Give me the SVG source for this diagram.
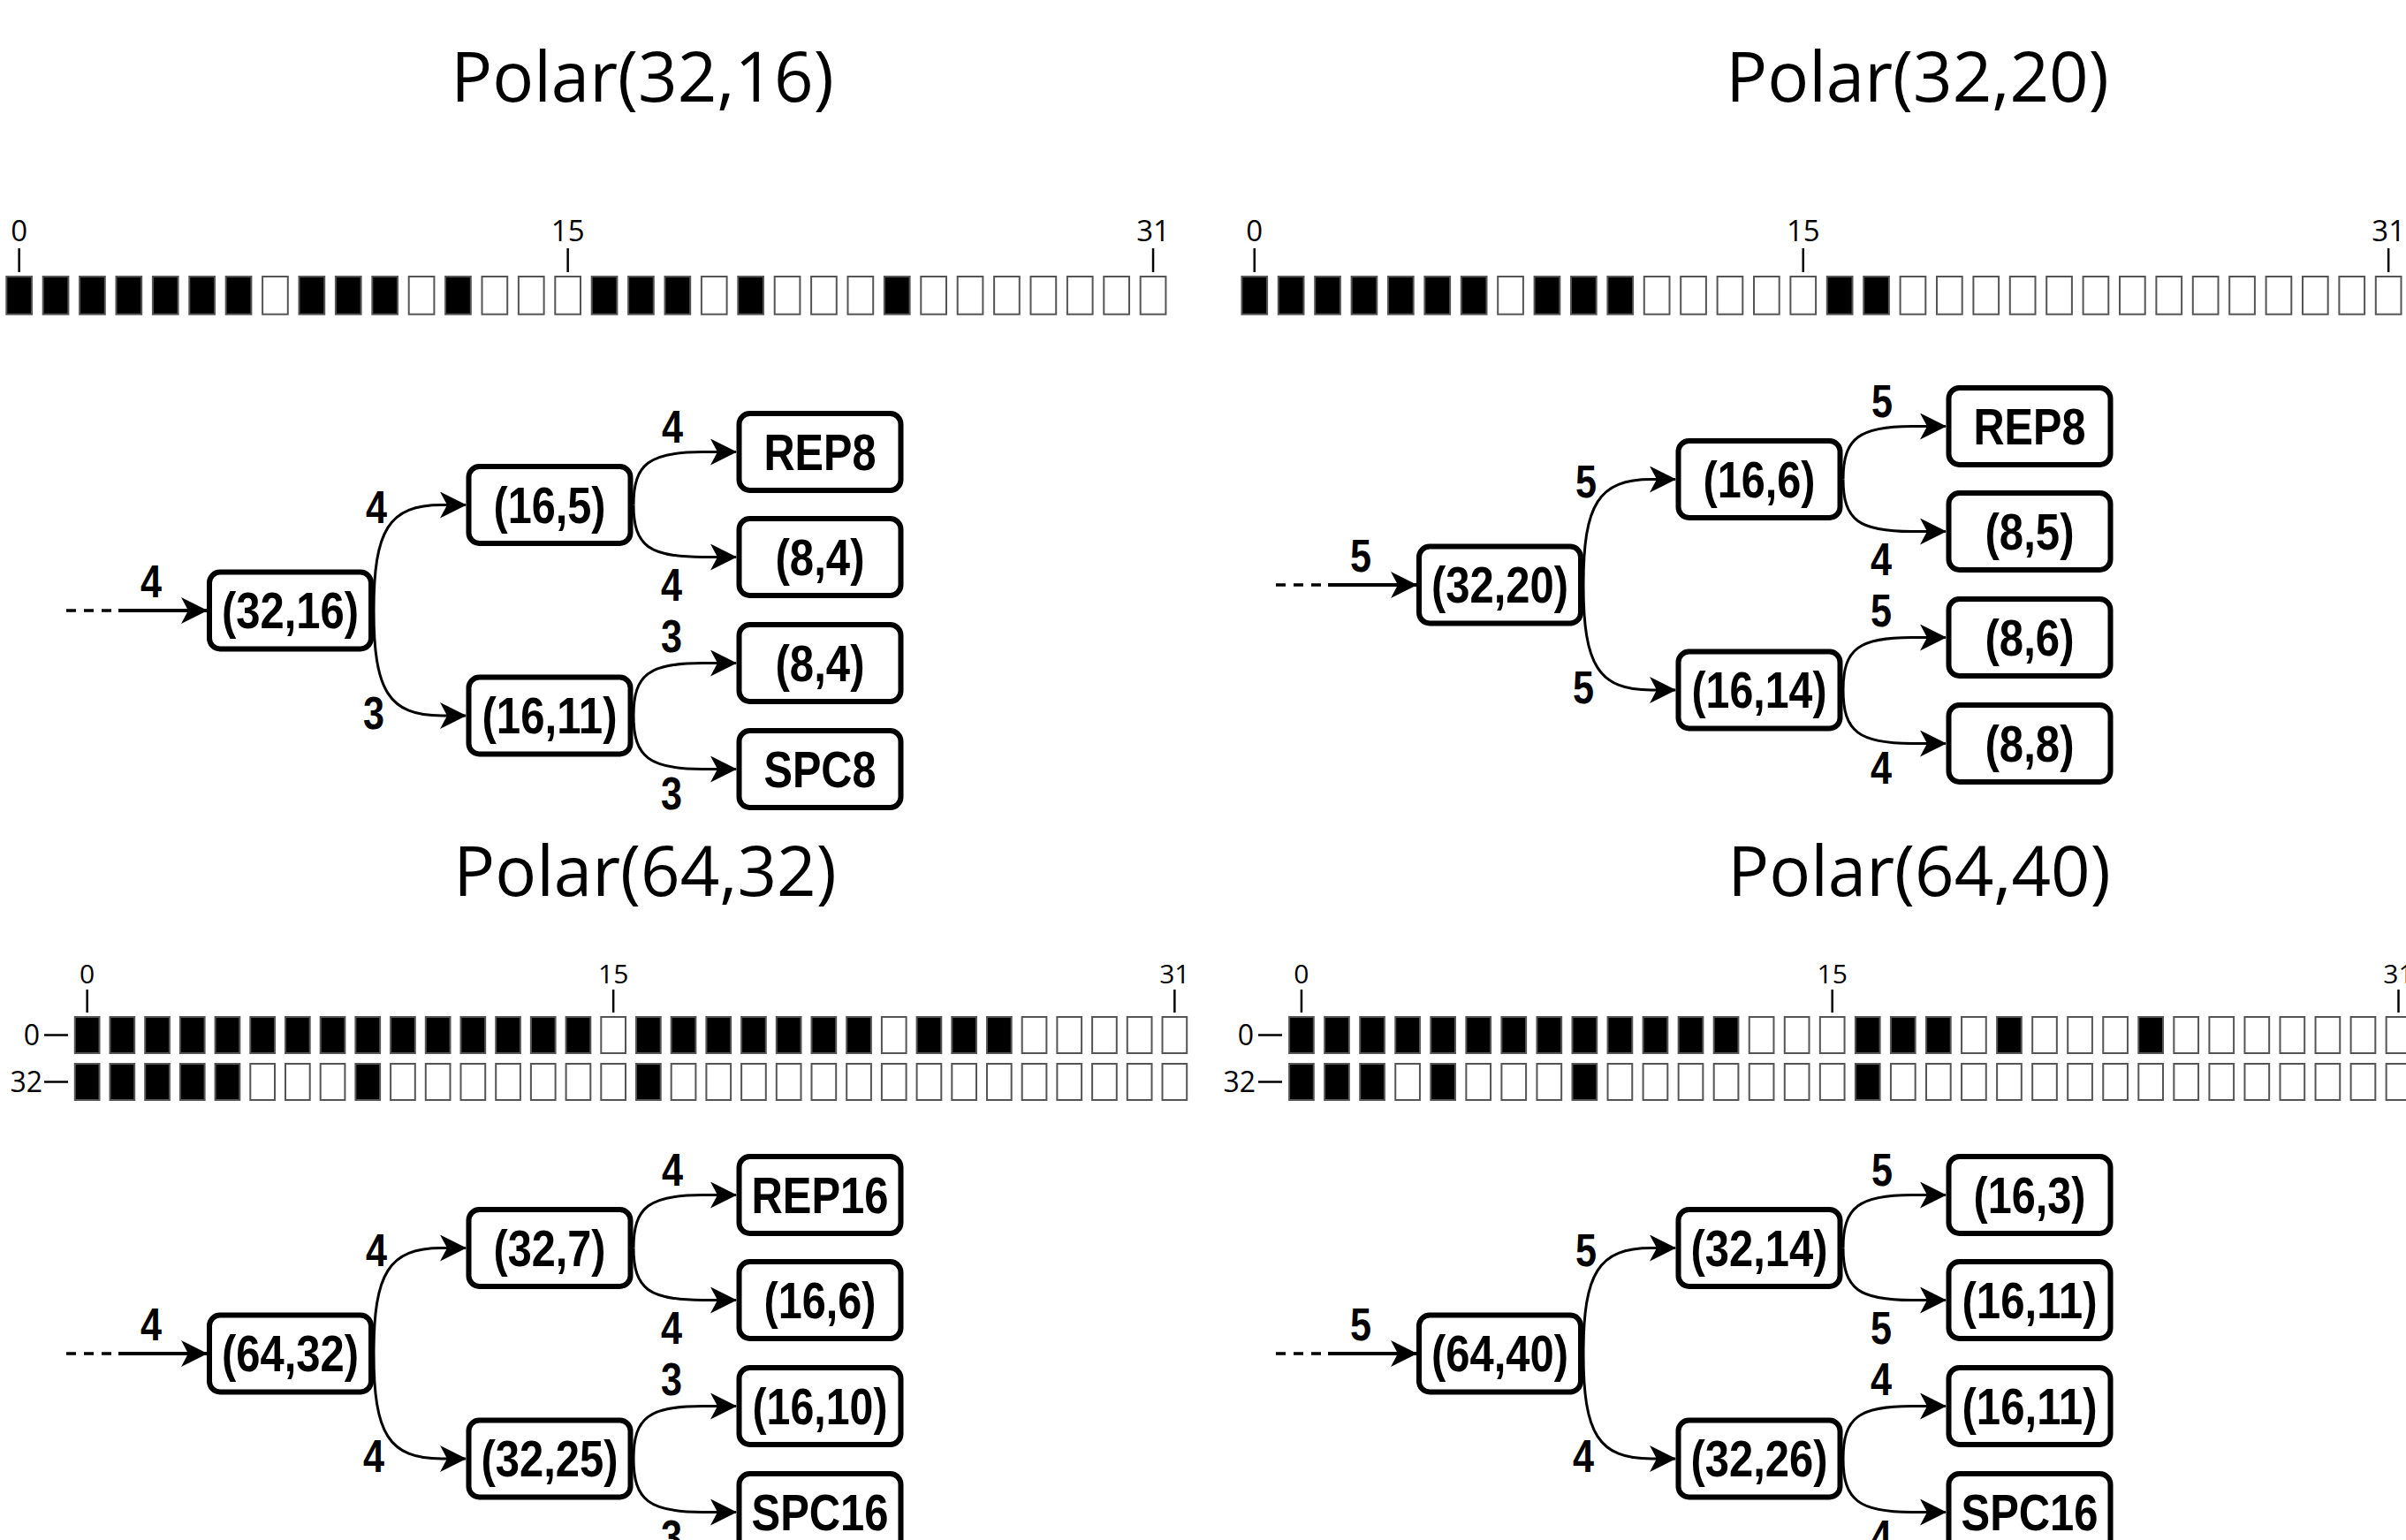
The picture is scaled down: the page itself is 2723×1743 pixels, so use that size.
<svg xmlns="http://www.w3.org/2000/svg" xmlns:xlink="http://www.w3.org/1999/xlink" width="2723" height="1743" viewBox="0 0 2723 1743">
<defs>
<style>
.title{font-family:"Open Sans","Noto Sans",sans-serif;font-size:78px;text-anchor:middle;fill:#000}
.tk1{font-family:"Open Sans","Noto Sans",sans-serif;font-size:33px;text-anchor:middle;fill:#000}
.tk2{font-family:"Open Sans","Noto Sans",sans-serif;font-size:30px;text-anchor:middle;fill:#000}
.rl{font-family:"Open Sans","Noto Sans",sans-serif;font-size:32px;text-anchor:end;fill:#000}
.tick{stroke:#000;stroke-width:2.5;fill:none}
.node rect{fill:#fff;stroke:#000;stroke-width:6}
.node text{font-family:"Liberation Sans",Arial,sans-serif;font-weight:bold;font-size:57px;text-anchor:middle;fill:#000}
.edge path,.edge line{fill:none;stroke:#000;stroke-width:3}
.edge .in{stroke-width:4}
.edge .dash{stroke-width:3.5;stroke-dasharray:11 9}
.lbl{font-family:"Liberation Sans",Arial,sans-serif;font-weight:bold;font-size:52px;text-anchor:middle;fill:#000}
</style>
<marker id="arr" markerUnits="userSpaceOnUse" markerWidth="30" markerHeight="30" viewBox="0 0 30 30" refX="29" refY="15" orient="auto">
<path d="M0,0 L30,15 L0,30 L8,15 Z" fill="#000"/>
</marker>
<rect id="k1" width="28.7" height="42.7" fill="#000" stroke="#555" stroke-width="2"/>
<rect id="w1" width="28.7" height="42.7" fill="#fff" stroke="#555" stroke-width="2"/>
<rect id="k2" width="27.7" height="41" fill="#000" stroke="#555" stroke-width="2"/>
<rect id="w2" width="27.7" height="41" fill="#fff" stroke="#555" stroke-width="2"/>
</defs>
<rect width="2723" height="1743" fill="#fff"/>

<text class="title" x="727" y="115">Polar(32,16)</text>
<text class="title" x="2170" y="115">Polar(32,20)</text>
<text class="title" x="730" y="1014">Polar(64,32)</text>
<text class="title" x="2172" y="1014">Polar(64,40)</text>

<!-- P1 bit row -->
<g id="bits-p1">
<text class="tk1" x="21.65" y="273">0</text><text class="tk1" x="642.65" y="273">15</text><text class="tk1" x="1305.05" y="273">31</text>
<line class="tick" x1="21.65" y1="281" x2="21.65" y2="308"/><line class="tick" x1="642.65" y1="281" x2="642.65" y2="308"/><line class="tick" x1="1305.05" y1="281" x2="1305.05" y2="308"/>
<g transform="translate(7.3,313)">
<use href="#k1" x="0"/><use href="#k1" x="41.4"/><use href="#k1" x="82.8"/><use href="#k1" x="124.2"/><use href="#k1" x="165.6"/><use href="#k1" x="207"/><use href="#k1" x="248.4"/><use href="#w1" x="289.8"/>
<use href="#k1" x="331.2"/><use href="#k1" x="372.6"/><use href="#k1" x="414"/><use href="#w1" x="455.4"/><use href="#k1" x="496.8"/><use href="#w1" x="538.2"/><use href="#w1" x="579.6"/><use href="#w1" x="621"/>
<use href="#k1" x="662.4"/><use href="#k1" x="703.8"/><use href="#k1" x="745.2"/><use href="#w1" x="786.6"/><use href="#k1" x="828"/><use href="#w1" x="869.4"/><use href="#w1" x="910.8"/><use href="#w1" x="952.2"/>
<use href="#k1" x="993.6"/><use href="#w1" x="1035"/><use href="#w1" x="1076.4"/><use href="#w1" x="1117.8"/><use href="#w1" x="1159.2"/><use href="#w1" x="1200.6"/><use href="#w1" x="1242"/><use href="#w1" x="1283.4"/>
</g>
</g>

<!-- P2 bit row -->
<g id="bits-p2">
<text class="tk1" x="1419.75" y="273">0</text><text class="tk1" x="2040.75" y="273">15</text><text class="tk1" x="2703.15" y="273">31</text>
<line class="tick" x1="1419.75" y1="281" x2="1419.75" y2="308"/><line class="tick" x1="2040.75" y1="281" x2="2040.75" y2="308"/><line class="tick" x1="2703.15" y1="281" x2="2703.15" y2="308"/>
<g transform="translate(1405.4,313)">
<use href="#k1" x="0"/><use href="#k1" x="41.4"/><use href="#k1" x="82.8"/><use href="#k1" x="124.2"/><use href="#k1" x="165.6"/><use href="#k1" x="207"/><use href="#k1" x="248.4"/><use href="#w1" x="289.8"/>
<use href="#k1" x="331.2"/><use href="#k1" x="372.6"/><use href="#k1" x="414"/><use href="#w1" x="455.4"/><use href="#w1" x="496.8"/><use href="#w1" x="538.2"/><use href="#w1" x="579.6"/><use href="#w1" x="621"/>
<use href="#k1" x="662.4"/><use href="#k1" x="703.8"/><use href="#w1" x="745.2"/><use href="#w1" x="786.6"/><use href="#w1" x="828"/><use href="#w1" x="869.4"/><use href="#w1" x="910.8"/><use href="#w1" x="952.2"/>
<use href="#w1" x="993.6"/><use href="#w1" x="1035"/><use href="#w1" x="1076.4"/><use href="#w1" x="1117.8"/><use href="#w1" x="1159.2"/><use href="#w1" x="1200.6"/><use href="#w1" x="1242"/><use href="#w1" x="1283.4"/>
</g>
</g>

<!-- P3 bit rows -->
<g id="bits-p3">
<text class="tk2" x="98.65" y="1113">0</text><text class="tk2" x="694.15" y="1113">15</text><text class="tk2" x="1329.35" y="1113">31</text>
<line class="tick" x1="98.65" y1="1120" x2="98.65" y2="1146"/><line class="tick" x1="694.15" y1="1120" x2="694.15" y2="1146"/><line class="tick" x1="1329.35" y1="1120" x2="1329.35" y2="1146"/>
<text class="rl" x="45" y="1183">0</text><line class="tick" x1="50" y1="1171.5" x2="77" y2="1171.5"/>
<text class="rl" x="48" y="1236">32</text><line class="tick" x1="50" y1="1224.5" x2="77" y2="1224.5"/>
<g transform="translate(84.8,1151)">
<use href="#k2" x="0"/><use href="#k2" x="39.7"/><use href="#k2" x="79.4"/><use href="#k2" x="119.1"/><use href="#k2" x="158.8"/><use href="#k2" x="198.5"/><use href="#k2" x="238.2"/><use href="#k2" x="277.9"/>
<use href="#k2" x="317.6"/><use href="#k2" x="357.3"/><use href="#k2" x="397"/><use href="#k2" x="436.7"/><use href="#k2" x="476.4"/><use href="#k2" x="516.1"/><use href="#k2" x="555.8"/><use href="#w2" x="595.5"/>
<use href="#k2" x="635.2"/><use href="#k2" x="674.9"/><use href="#k2" x="714.6"/><use href="#k2" x="754.3"/><use href="#k2" x="794"/><use href="#k2" x="833.7"/><use href="#k2" x="873.4"/><use href="#w2" x="913.1"/>
<use href="#k2" x="952.8"/><use href="#k2" x="992.5"/><use href="#k2" x="1032.2"/><use href="#w2" x="1071.9"/><use href="#w2" x="1111.6"/><use href="#w2" x="1151.3"/><use href="#w2" x="1191"/><use href="#w2" x="1230.7"/>
</g>
<g transform="translate(84.8,1204)">
<use href="#k2" x="0"/><use href="#k2" x="39.7"/><use href="#k2" x="79.4"/><use href="#k2" x="119.1"/><use href="#k2" x="158.8"/><use href="#w2" x="198.5"/><use href="#w2" x="238.2"/><use href="#w2" x="277.9"/>
<use href="#k2" x="317.6"/><use href="#w2" x="357.3"/><use href="#w2" x="397"/><use href="#w2" x="436.7"/><use href="#w2" x="476.4"/><use href="#w2" x="516.1"/><use href="#w2" x="555.8"/><use href="#w2" x="595.5"/>
<use href="#k2" x="635.2"/><use href="#w2" x="674.9"/><use href="#w2" x="714.6"/><use href="#w2" x="754.3"/><use href="#w2" x="794"/><use href="#w2" x="833.7"/><use href="#w2" x="873.4"/><use href="#w2" x="913.1"/>
<use href="#w2" x="952.8"/><use href="#w2" x="992.5"/><use href="#w2" x="1032.2"/><use href="#w2" x="1071.9"/><use href="#w2" x="1111.6"/><use href="#w2" x="1151.3"/><use href="#w2" x="1191"/><use href="#w2" x="1230.7"/>
</g>
</g>

<!-- P4 bit rows -->
<g id="bits-p4">
<text class="tk2" x="1472.95" y="1113">0</text><text class="tk2" x="2073.7" y="1113">15</text><text class="tk2" x="2714.5" y="1113">31</text>
<line class="tick" x1="1472.95" y1="1120" x2="1472.95" y2="1146"/><line class="tick" x1="2073.7" y1="1120" x2="2073.7" y2="1146"/><line class="tick" x1="2714.5" y1="1120" x2="2714.5" y2="1146"/>
<text class="rl" x="1419" y="1183">0</text><line class="tick" x1="1424" y1="1171.5" x2="1451" y2="1171.5"/>
<text class="rl" x="1421" y="1236">32</text><line class="tick" x1="1424" y1="1224.5" x2="1451" y2="1224.5"/>
<g transform="translate(1459.1,1151)">
<use href="#k2" x="0"/><use href="#k2" x="40.05"/><use href="#k2" x="80.1"/><use href="#k2" x="120.15"/><use href="#k2" x="160.2"/><use href="#k2" x="200.25"/><use href="#k2" x="240.3"/><use href="#k2" x="280.35"/>
<use href="#k2" x="320.4"/><use href="#k2" x="360.45"/><use href="#k2" x="400.5"/><use href="#k2" x="440.55"/><use href="#k2" x="480.6"/><use href="#w2" x="520.65"/><use href="#w2" x="560.7"/><use href="#w2" x="600.75"/>
<use href="#k2" x="640.8"/><use href="#k2" x="680.85"/><use href="#k2" x="720.9"/><use href="#w2" x="760.95"/><use href="#k2" x="801"/><use href="#w2" x="841.05"/><use href="#w2" x="881.1"/><use href="#w2" x="921.15"/>
<use href="#k2" x="961.2"/><use href="#w2" x="1001.25"/><use href="#w2" x="1041.3"/><use href="#w2" x="1081.35"/><use href="#w2" x="1121.4"/><use href="#w2" x="1161.45"/><use href="#w2" x="1201.5"/><use href="#w2" x="1241.55"/>
</g>
<g transform="translate(1459.1,1204)">
<use href="#k2" x="0"/><use href="#k2" x="40.05"/><use href="#k2" x="80.1"/><use href="#w2" x="120.15"/><use href="#k2" x="160.2"/><use href="#w2" x="200.25"/><use href="#w2" x="240.3"/><use href="#w2" x="280.35"/>
<use href="#k2" x="320.4"/><use href="#w2" x="360.45"/><use href="#w2" x="400.5"/><use href="#w2" x="440.55"/><use href="#w2" x="480.6"/><use href="#w2" x="520.65"/><use href="#w2" x="560.7"/><use href="#w2" x="600.75"/>
<use href="#k2" x="640.8"/><use href="#w2" x="680.85"/><use href="#w2" x="720.9"/><use href="#w2" x="760.95"/><use href="#w2" x="801"/><use href="#w2" x="841.05"/><use href="#w2" x="881.1"/><use href="#w2" x="921.15"/>
<use href="#w2" x="961.2"/><use href="#w2" x="1001.25"/><use href="#w2" x="1041.3"/><use href="#w2" x="1081.35"/><use href="#w2" x="1121.4"/><use href="#w2" x="1161.45"/><use href="#w2" x="1201.5"/><use href="#w2" x="1241.55"/>
</g>
</g>

<!-- ===== Tree P1 ===== -->
<g id="tree-p1">
<g id="p1-connectors" class="edge">
<line class="dash" x1="75" y1="691" x2="136" y2="691"/>
<path class="in" d="M134,691 L234,691" marker-end="url(#arr)"/>
<path d="M423,691 C423,600 440,571.5 500,571.5 L527,571.5" marker-end="url(#arr)"/>
<path d="M423,691 C423,782 440,810 500,810 L527,810" marker-end="url(#arr)"/>
<path d="M717,571.5 C717,525 735,511.5 795,511.5 L833,511.5" marker-end="url(#arr)"/>
<path d="M717,571.5 C717,618 735,630.5 795,630.5 L833,630.5" marker-end="url(#arr)"/>
<path d="M717,810 C717,763 735,750.5 795,750.5 L833,750.5" marker-end="url(#arr)"/>
<path d="M717,810 C717,857 735,870.5 795,870.5 L833,870.5" marker-end="url(#arr)"/>
<text class="lbl" x="171" y="676" textLength="24" lengthAdjust="spacingAndGlyphs">4</text>
<text class="lbl" x="426" y="592" textLength="24" lengthAdjust="spacingAndGlyphs">4</text>
<text class="lbl" x="423" y="825" textLength="24" lengthAdjust="spacingAndGlyphs">3</text>
<text class="lbl" x="761" y="501" textLength="24" lengthAdjust="spacingAndGlyphs">4</text>
<text class="lbl" x="760" y="680" textLength="24" lengthAdjust="spacingAndGlyphs">4</text>
<text class="lbl" x="760" y="738" textLength="24" lengthAdjust="spacingAndGlyphs">3</text>
<text class="lbl" x="760" y="916" textLength="24" lengthAdjust="spacingAndGlyphs">3</text>
</g>
<g id="p1-root" class="node"><rect x="237" y="647.5" width="183" height="87" rx="12"/><text x="328.5" y="711" textLength="155" lengthAdjust="spacingAndGlyphs">(32,16)</text></g>
<g id="p1-mid-u" class="node"><rect x="530.5" y="528" width="183" height="87" rx="12"/><text x="622" y="591.5" textLength="127" lengthAdjust="spacingAndGlyphs">(16,5)</text></g>
<g id="p1-mid-d" class="node"><rect x="530.5" y="766.5" width="183" height="87" rx="12"/><text x="622" y="830" textLength="153" lengthAdjust="spacingAndGlyphs">(16,11)</text></g>
<g id="p1-leaf-1" class="node"><rect x="836.5" y="468" width="183" height="87" rx="12"/><text x="928" y="531.5" textLength="127" lengthAdjust="spacingAndGlyphs">REP8</text></g>
<g id="p1-leaf-2" class="node"><rect x="836.5" y="587" width="183" height="87" rx="12"/><text x="928" y="650.5" textLength="101" lengthAdjust="spacingAndGlyphs">(8,4)</text></g>
<g id="p1-leaf-3" class="node"><rect x="836.5" y="707" width="183" height="87" rx="12"/><text x="928" y="770.5" textLength="101" lengthAdjust="spacingAndGlyphs">(8,4)</text></g>
<g id="p1-leaf-4" class="node"><rect x="836.5" y="827" width="183" height="87" rx="12"/><text x="928" y="890.5" textLength="127" lengthAdjust="spacingAndGlyphs">SPC8</text></g>
</g>

<!-- ===== Tree P2 ===== -->
<g id="tree-p2" transform="translate(1369,-29)">
<g id="p2-connectors" class="edge">
<line class="dash" x1="75" y1="691" x2="136" y2="691"/>
<path class="in" d="M134,691 L234,691" marker-end="url(#arr)"/>
<path d="M423,691 C423,600 440,571.5 500,571.5 L527,571.5" marker-end="url(#arr)"/>
<path d="M423,691 C423,782 440,810 500,810 L527,810" marker-end="url(#arr)"/>
<path d="M717,571.5 C717,525 735,511.5 795,511.5 L833,511.5" marker-end="url(#arr)"/>
<path d="M717,571.5 C717,618 735,630.5 795,630.5 L833,630.5" marker-end="url(#arr)"/>
<path d="M717,810 C717,763 735,750.5 795,750.5 L833,750.5" marker-end="url(#arr)"/>
<path d="M717,810 C717,857 735,870.5 795,870.5 L833,870.5" marker-end="url(#arr)"/>
<text class="lbl" x="171" y="676" textLength="24" lengthAdjust="spacingAndGlyphs">5</text>
<text class="lbl" x="426" y="592" textLength="24" lengthAdjust="spacingAndGlyphs">5</text>
<text class="lbl" x="423" y="825" textLength="24" lengthAdjust="spacingAndGlyphs">5</text>
<text class="lbl" x="761" y="501" textLength="24" lengthAdjust="spacingAndGlyphs">5</text>
<text class="lbl" x="760" y="680" textLength="24" lengthAdjust="spacingAndGlyphs">4</text>
<text class="lbl" x="760" y="738" textLength="24" lengthAdjust="spacingAndGlyphs">5</text>
<text class="lbl" x="760" y="916" textLength="24" lengthAdjust="spacingAndGlyphs">4</text>
</g>
<g id="p2-root" class="node"><rect x="237" y="647.5" width="183" height="87" rx="12"/><text x="328.5" y="711" textLength="155" lengthAdjust="spacingAndGlyphs">(32,20)</text></g>
<g id="p2-mid-u" class="node"><rect x="530.5" y="528" width="183" height="87" rx="12"/><text x="622" y="591.5" textLength="127" lengthAdjust="spacingAndGlyphs">(16,6)</text></g>
<g id="p2-mid-d" class="node"><rect x="530.5" y="766.5" width="183" height="87" rx="12"/><text x="622" y="830" textLength="153" lengthAdjust="spacingAndGlyphs">(16,14)</text></g>
<g id="p2-leaf-1" class="node"><rect x="836.5" y="468" width="183" height="87" rx="12"/><text x="928" y="531.5" textLength="127" lengthAdjust="spacingAndGlyphs">REP8</text></g>
<g id="p2-leaf-2" class="node"><rect x="836.5" y="587" width="183" height="87" rx="12"/><text x="928" y="650.5" textLength="101" lengthAdjust="spacingAndGlyphs">(8,5)</text></g>
<g id="p2-leaf-3" class="node"><rect x="836.5" y="707" width="183" height="87" rx="12"/><text x="928" y="770.5" textLength="101" lengthAdjust="spacingAndGlyphs">(8,6)</text></g>
<g id="p2-leaf-4" class="node"><rect x="836.5" y="827" width="183" height="87" rx="12"/><text x="928" y="890.5" textLength="101" lengthAdjust="spacingAndGlyphs">(8,8)</text></g>
</g>

<!-- ===== Tree P3 ===== -->
<g id="tree-p3" transform="translate(0,841)">
<g id="p3-connectors" class="edge">
<line class="dash" x1="75" y1="691" x2="136" y2="691"/>
<path class="in" d="M134,691 L234,691" marker-end="url(#arr)"/>
<path d="M423,691 C423,600 440,571.5 500,571.5 L527,571.5" marker-end="url(#arr)"/>
<path d="M423,691 C423,782 440,810 500,810 L527,810" marker-end="url(#arr)"/>
<path d="M717,571.5 C717,525 735,511.5 795,511.5 L833,511.5" marker-end="url(#arr)"/>
<path d="M717,571.5 C717,618 735,630.5 795,630.5 L833,630.5" marker-end="url(#arr)"/>
<path d="M717,810 C717,763 735,750.5 795,750.5 L833,750.5" marker-end="url(#arr)"/>
<path d="M717,810 C717,857 735,870.5 795,870.5 L833,870.5" marker-end="url(#arr)"/>
<text class="lbl" x="171" y="676" textLength="24" lengthAdjust="spacingAndGlyphs">4</text>
<text class="lbl" x="426" y="592" textLength="24" lengthAdjust="spacingAndGlyphs">4</text>
<text class="lbl" x="423" y="825" textLength="24" lengthAdjust="spacingAndGlyphs">4</text>
<text class="lbl" x="761" y="501" textLength="24" lengthAdjust="spacingAndGlyphs">4</text>
<text class="lbl" x="760" y="680" textLength="24" lengthAdjust="spacingAndGlyphs">4</text>
<text class="lbl" x="760" y="738" textLength="24" lengthAdjust="spacingAndGlyphs">3</text>
<text class="lbl" x="760" y="916" textLength="24" lengthAdjust="spacingAndGlyphs">3</text>
</g>
<g id="p3-root" class="node"><rect x="237" y="647.5" width="183" height="87" rx="12"/><text x="328.5" y="711" textLength="155" lengthAdjust="spacingAndGlyphs">(64,32)</text></g>
<g id="p3-mid-u" class="node"><rect x="530.5" y="528" width="183" height="87" rx="12"/><text x="622" y="591.5" textLength="127" lengthAdjust="spacingAndGlyphs">(32,7)</text></g>
<g id="p3-mid-d" class="node"><rect x="530.5" y="766.5" width="183" height="87" rx="12"/><text x="622" y="830" textLength="155" lengthAdjust="spacingAndGlyphs">(32,25)</text></g>
<g id="p3-leaf-1" class="node"><rect x="836.5" y="468" width="183" height="87" rx="12"/><text x="928" y="531.5" textLength="155" lengthAdjust="spacingAndGlyphs">REP16</text></g>
<g id="p3-leaf-2" class="node"><rect x="836.5" y="587" width="183" height="87" rx="12"/><text x="928" y="650.5" textLength="127" lengthAdjust="spacingAndGlyphs">(16,6)</text></g>
<g id="p3-leaf-3" class="node"><rect x="836.5" y="707" width="183" height="87" rx="12"/><text x="928" y="770.5" textLength="153" lengthAdjust="spacingAndGlyphs">(16,10)</text></g>
<g id="p3-leaf-4" class="node"><rect x="836.5" y="827" width="183" height="87" rx="12"/><text x="928" y="890.5" textLength="155" lengthAdjust="spacingAndGlyphs">SPC16</text></g>
</g>

<!-- ===== Tree P4 ===== -->
<g id="tree-p4" transform="translate(1369,841)">
<g id="p4-connectors" class="edge">
<line class="dash" x1="75" y1="691" x2="136" y2="691"/>
<path class="in" d="M134,691 L234,691" marker-end="url(#arr)"/>
<path d="M423,691 C423,600 440,571.5 500,571.5 L527,571.5" marker-end="url(#arr)"/>
<path d="M423,691 C423,782 440,810 500,810 L527,810" marker-end="url(#arr)"/>
<path d="M717,571.5 C717,525 735,511.5 795,511.5 L833,511.5" marker-end="url(#arr)"/>
<path d="M717,571.5 C717,618 735,630.5 795,630.5 L833,630.5" marker-end="url(#arr)"/>
<path d="M717,810 C717,763 735,750.5 795,750.5 L833,750.5" marker-end="url(#arr)"/>
<path d="M717,810 C717,857 735,870.5 795,870.5 L833,870.5" marker-end="url(#arr)"/>
<text class="lbl" x="171" y="676" textLength="24" lengthAdjust="spacingAndGlyphs">5</text>
<text class="lbl" x="426" y="592" textLength="24" lengthAdjust="spacingAndGlyphs">5</text>
<text class="lbl" x="423" y="825" textLength="24" lengthAdjust="spacingAndGlyphs">4</text>
<text class="lbl" x="761" y="501" textLength="24" lengthAdjust="spacingAndGlyphs">5</text>
<text class="lbl" x="760" y="680" textLength="24" lengthAdjust="spacingAndGlyphs">5</text>
<text class="lbl" x="760" y="738" textLength="24" lengthAdjust="spacingAndGlyphs">4</text>
<text class="lbl" x="760" y="916" textLength="24" lengthAdjust="spacingAndGlyphs">4</text>
</g>
<g id="p4-root" class="node"><rect x="237" y="647.5" width="183" height="87" rx="12"/><text x="328.5" y="711" textLength="155" lengthAdjust="spacingAndGlyphs">(64,40)</text></g>
<g id="p4-mid-u" class="node"><rect x="530.5" y="528" width="183" height="87" rx="12"/><text x="622" y="591.5" textLength="155" lengthAdjust="spacingAndGlyphs">(32,14)</text></g>
<g id="p4-mid-d" class="node"><rect x="530.5" y="766.5" width="183" height="87" rx="12"/><text x="622" y="830" textLength="155" lengthAdjust="spacingAndGlyphs">(32,26)</text></g>
<g id="p4-leaf-1" class="node"><rect x="836.5" y="468" width="183" height="87" rx="12"/><text x="928" y="531.5" textLength="127" lengthAdjust="spacingAndGlyphs">(16,3)</text></g>
<g id="p4-leaf-2" class="node"><rect x="836.5" y="587" width="183" height="87" rx="12"/><text x="928" y="650.5" textLength="153" lengthAdjust="spacingAndGlyphs">(16,11)</text></g>
<g id="p4-leaf-3" class="node"><rect x="836.5" y="707" width="183" height="87" rx="12"/><text x="928" y="770.5" textLength="153" lengthAdjust="spacingAndGlyphs">(16,11)</text></g>
<g id="p4-leaf-4" class="node"><rect x="836.5" y="827" width="183" height="87" rx="12"/><text x="928" y="890.5" textLength="155" lengthAdjust="spacingAndGlyphs">SPC16</text></g>
</g>
</svg>
